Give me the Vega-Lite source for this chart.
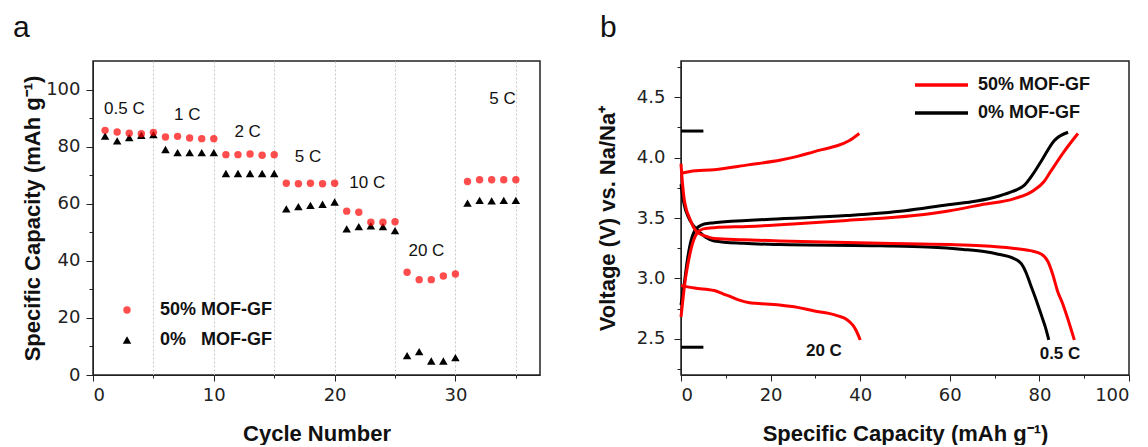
{
  "$schema": "https://vega.github.io/schema/vega-lite/v6.json",
  "padding": {"left": 12, "top": 12, "right": 5, "bottom": 0},
  "spacing": 54,
  "config": {
    "font": "Liberation Sans",
    "view": {"stroke": "#222", "strokeWidth": 1.5},
    "axis": {"domainColor": "#222", "tickColor": "#222", "labelFont": "DejaVu Sans", "labelFontSize": 18, "labelColor": "#222", "titleFont": "Liberation Sans", "titleFontSize": 22, "titleFontWeight": "bold", "titleColor": "#111", "grid": false, "labelOverlap": false, "tickCount": 30},
    "title": {"font": "Liberation Sans", "fontSize": 30, "fontWeight": "normal", "anchor": "start", "frame": "group", "color": "#111", "offset": 18}
  },
  "resolve": {
    "scale": {"x": "independent", "y": "independent", "color": "independent", "shape": "independent", "opacity": "independent", "size": "independent"},
    "legend": {"color": "independent", "shape": "independent", "opacity": "independent", "size": "independent"}
  },
  "hconcat": [
    {
      "width": 447,
      "height": 314,
      "title": {"text": "a", "dx": -80},
      "layer": [
        {
          "data": {"values": [
            {"cycle": 1, "cap": 83.7, "series": "0% MOF-GF"},
            {"cycle": 2, "cap": 82.0, "series": "0% MOF-GF"},
            {"cycle": 3, "cap": 83.2, "series": "0% MOF-GF"},
            {"cycle": 4, "cap": 84.0, "series": "0% MOF-GF"},
            {"cycle": 5, "cap": 84.2, "series": "0% MOF-GF"},
            {"cycle": 6, "cap": 79.0, "series": "0% MOF-GF"},
            {"cycle": 7, "cap": 77.9, "series": "0% MOF-GF"},
            {"cycle": 8, "cap": 77.9, "series": "0% MOF-GF"},
            {"cycle": 9, "cap": 77.9, "series": "0% MOF-GF"},
            {"cycle": 10, "cap": 77.9, "series": "0% MOF-GF"},
            {"cycle": 11, "cap": 70.6, "series": "0% MOF-GF"},
            {"cycle": 12, "cap": 70.6, "series": "0% MOF-GF"},
            {"cycle": 13, "cap": 70.6, "series": "0% MOF-GF"},
            {"cycle": 14, "cap": 70.6, "series": "0% MOF-GF"},
            {"cycle": 15, "cap": 70.6, "series": "0% MOF-GF"},
            {"cycle": 16, "cap": 58.2, "series": "0% MOF-GF"},
            {"cycle": 17, "cap": 59.0, "series": "0% MOF-GF"},
            {"cycle": 18, "cap": 59.4, "series": "0% MOF-GF"},
            {"cycle": 19, "cap": 59.8, "series": "0% MOF-GF"},
            {"cycle": 20, "cap": 60.6, "series": "0% MOF-GF"},
            {"cycle": 21, "cap": 51.2, "series": "0% MOF-GF"},
            {"cycle": 22, "cap": 52.0, "series": "0% MOF-GF"},
            {"cycle": 23, "cap": 52.3, "series": "0% MOF-GF"},
            {"cycle": 24, "cap": 52.0, "series": "0% MOF-GF"},
            {"cycle": 25, "cap": 50.6, "series": "0% MOF-GF"},
            {"cycle": 26, "cap": 6.8, "series": "0% MOF-GF"},
            {"cycle": 27, "cap": 8.2, "series": "0% MOF-GF"},
            {"cycle": 28, "cap": 4.9, "series": "0% MOF-GF"},
            {"cycle": 29, "cap": 4.9, "series": "0% MOF-GF"},
            {"cycle": 30, "cap": 6.1, "series": "0% MOF-GF"},
            {"cycle": 31, "cap": 60.2, "series": "0% MOF-GF"},
            {"cycle": 32, "cap": 61.2, "series": "0% MOF-GF"},
            {"cycle": 33, "cap": 61.0, "series": "0% MOF-GF"},
            {"cycle": 34, "cap": 61.2, "series": "0% MOF-GF"},
            {"cycle": 35, "cap": 61.2, "series": "0% MOF-GF"},
            {"cycle": 1, "cap": 85.7, "series": "50% MOF-GF"},
            {"cycle": 2, "cap": 85.1, "series": "50% MOF-GF"},
            {"cycle": 3, "cap": 84.7, "series": "50% MOF-GF"},
            {"cycle": 4, "cap": 84.5, "series": "50% MOF-GF"},
            {"cycle": 5, "cap": 85.0, "series": "50% MOF-GF"},
            {"cycle": 6, "cap": 83.4, "series": "50% MOF-GF"},
            {"cycle": 7, "cap": 83.6, "series": "50% MOF-GF"},
            {"cycle": 8, "cap": 83.0, "series": "50% MOF-GF"},
            {"cycle": 9, "cap": 82.8, "series": "50% MOF-GF"},
            {"cycle": 10, "cap": 82.8, "series": "50% MOF-GF"},
            {"cycle": 11, "cap": 77.2, "series": "50% MOF-GF"},
            {"cycle": 12, "cap": 77.2, "series": "50% MOF-GF"},
            {"cycle": 13, "cap": 77.4, "series": "50% MOF-GF"},
            {"cycle": 14, "cap": 77.0, "series": "50% MOF-GF"},
            {"cycle": 15, "cap": 77.2, "series": "50% MOF-GF"},
            {"cycle": 16, "cap": 67.2, "series": "50% MOF-GF"},
            {"cycle": 17, "cap": 67.0, "series": "50% MOF-GF"},
            {"cycle": 18, "cap": 67.2, "series": "50% MOF-GF"},
            {"cycle": 19, "cap": 67.0, "series": "50% MOF-GF"},
            {"cycle": 20, "cap": 67.2, "series": "50% MOF-GF"},
            {"cycle": 21, "cap": 57.4, "series": "50% MOF-GF"},
            {"cycle": 22, "cap": 57.0, "series": "50% MOF-GF"},
            {"cycle": 23, "cap": 53.5, "series": "50% MOF-GF"},
            {"cycle": 24, "cap": 53.5, "series": "50% MOF-GF"},
            {"cycle": 25, "cap": 53.7, "series": "50% MOF-GF"},
            {"cycle": 26, "cap": 36.0, "series": "50% MOF-GF"},
            {"cycle": 27, "cap": 33.4, "series": "50% MOF-GF"},
            {"cycle": 28, "cap": 33.4, "series": "50% MOF-GF"},
            {"cycle": 29, "cap": 34.7, "series": "50% MOF-GF"},
            {"cycle": 30, "cap": 35.4, "series": "50% MOF-GF"},
            {"cycle": 31, "cap": 67.8, "series": "50% MOF-GF"},
            {"cycle": 32, "cap": 68.4, "series": "50% MOF-GF"},
            {"cycle": 33, "cap": 68.4, "series": "50% MOF-GF"},
            {"cycle": 34, "cap": 68.4, "series": "50% MOF-GF"},
            {"cycle": 35, "cap": 68.4, "series": "50% MOF-GF"}
          ]},
          "mark": {"type": "point", "filled": true, "strokeWidth": 0},
          "encoding": {
            "x": {"field": "cycle", "type": "quantitative", "scale": {"domain": [0, 37], "nice": false},
              "axis": {"values": [0, 5, 10, 15, 20, 25, 30, 35], "labelExpr": "datum.value % 10 === 0 ? datum.label : ''",
                "labelFontSize": {"condition": {"test": "datum.value % 10 === 0", "value": 18}, "value": 0},
                "tickSize": {"condition": {"test": "datum.value % 10 === 0", "value": 6}, "value": 3},
                "grid": true, "gridDash": [2, 2], "gridColor": "#c8c8c8",
                "gridOpacity": {"condition": {"test": "datum.value === 0", "value": 0}, "value": 1},
                "title": "Cycle Number", "labelPadding": 5, "titlePadding": 19}},
            "y": {"field": "cap", "type": "quantitative", "scale": {"domain": [0, 110], "nice": false},
              "axis": {"values": [0, 10, 20, 30, 40, 50, 60, 70, 80, 90, 100], "labelExpr": "datum.value % 20 === 0 ? datum.label : ''",
                "labelFontSize": {"condition": {"test": "datum.value % 20 === 0", "value": 18}, "value": 0},
                "tickSize": {"condition": {"test": "datum.value % 20 === 0", "value": 7}, "value": 4},
                "title": "Specific Capacity (mAh g⁻¹)", "labelPadding": 6, "titlePadding": 1}},
            "color": {"field": "series", "type": "nominal", "scale": {"domain": ["50% MOF-GF", "0% MOF-GF"], "range": ["#ff0000", "#000000"]},
              "legend": {"orient": "none", "legendX": 25, "legendY": 240, "title": null, "padding": 0, "labelFont": "Liberation Sans", "labelFontSize": 18, "labelFontWeight": "bold", "labelColor": "#111", "rowPadding": 12, "labelOffset": 24,
                "labelExpr": "datum.label == '0% MOF-GF' ? '0%\u00a0\u00a0\u00a0MOF-GF' : datum.label"}},
            "shape": {"field": "series", "type": "nominal", "scale": {"domain": ["50% MOF-GF", "0% MOF-GF"], "range": ["circle", "triangle-up"]}},
            "size": {"field": "series", "type": "nominal", "scale": {"domain": ["50% MOF-GF", "0% MOF-GF"], "range": [55, 72]}},
            "opacity": {"field": "series", "type": "nominal", "scale": {"domain": ["50% MOF-GF", "0% MOF-GF"], "range": [0.7, 1]}}
          }
        },
        {
          "data": {"values": [
            {"label": "0.5 C", "cycle": 2.6, "cap": 93.3},
            {"label": "1 C", "cycle": 7.8, "cap": 91.0},
            {"label": "2 C", "cycle": 12.8, "cap": 85.0},
            {"label": "5 C", "cycle": 17.8, "cap": 76.5},
            {"label": "10 C", "cycle": 22.7, "cap": 67.4},
            {"label": "20 C", "cycle": 27.6, "cap": 43.3},
            {"label": "5 C", "cycle": 33.9, "cap": 96.8}
          ]},
          "mark": {"type": "text", "fontSize": 17, "color": "#111", "baseline": "middle"},
          "encoding": {
            "x": {"field": "cycle", "type": "quantitative"},
            "y": {"field": "cap", "type": "quantitative"},
            "text": {"field": "label"}
          }
        }
      ]
    },
    {
      "width": 448,
      "height": 314,
      "title": {"text": "b", "dx": -81},
      "layer": [
        {
          "data": {"values": [
            {"curve": "K05c", "series": "0% MOF-GF", "cap": 0, "v": 2.78},
            {"curve": "K05c", "series": "0% MOF-GF", "cap": 0.7, "v": 2.95},
            {"curve": "K05c", "series": "0% MOF-GF", "cap": 1.5, "v": 3.17},
            {"curve": "K05c", "series": "0% MOF-GF", "cap": 2.3, "v": 3.32},
            {"curve": "K05c", "series": "0% MOF-GF", "cap": 3.0, "v": 3.39},
            {"curve": "K05c", "series": "0% MOF-GF", "cap": 4.0, "v": 3.43},
            {"curve": "K05c", "series": "0% MOF-GF", "cap": 5.2, "v": 3.45},
            {"curve": "K05c", "series": "0% MOF-GF", "cap": 7.4, "v": 3.46},
            {"curve": "K05c", "series": "0% MOF-GF", "cap": 20, "v": 3.49},
            {"curve": "K05c", "series": "0% MOF-GF", "cap": 37, "v": 3.52},
            {"curve": "K05c", "series": "0% MOF-GF", "cap": 50, "v": 3.56},
            {"curve": "K05c", "series": "0% MOF-GF", "cap": 59.6, "v": 3.61},
            {"curve": "K05c", "series": "0% MOF-GF", "cap": 66, "v": 3.64},
            {"curve": "K05c", "series": "0% MOF-GF", "cap": 70.8, "v": 3.68},
            {"curve": "K05c", "series": "0% MOF-GF", "cap": 74, "v": 3.72},
            {"curve": "K05c", "series": "0% MOF-GF", "cap": 76.6, "v": 3.77},
            {"curve": "K05c", "series": "0% MOF-GF", "cap": 78.5, "v": 3.86},
            {"curve": "K05c", "series": "0% MOF-GF", "cap": 80.4, "v": 3.97},
            {"curve": "K05c", "series": "0% MOF-GF", "cap": 83.3, "v": 4.14},
            {"curve": "K05c", "series": "0% MOF-GF", "cap": 86.4, "v": 4.21},
            {"curve": "K05d", "series": "0% MOF-GF", "cap": 0, "v": 3.78},
            {"curve": "K05d", "series": "0% MOF-GF", "cap": 0.5, "v": 3.65},
            {"curve": "K05d", "series": "0% MOF-GF", "cap": 1.0, "v": 3.57},
            {"curve": "K05d", "series": "0% MOF-GF", "cap": 1.5, "v": 3.52},
            {"curve": "K05d", "series": "0% MOF-GF", "cap": 2.5, "v": 3.45},
            {"curve": "K05d", "series": "0% MOF-GF", "cap": 3.7, "v": 3.40},
            {"curve": "K05d", "series": "0% MOF-GF", "cap": 5.5, "v": 3.34},
            {"curve": "K05d", "series": "0% MOF-GF", "cap": 7.4, "v": 3.31},
            {"curve": "K05d", "series": "0% MOF-GF", "cap": 14, "v": 3.29},
            {"curve": "K05d", "series": "0% MOF-GF", "cap": 22, "v": 3.28},
            {"curve": "K05d", "series": "0% MOF-GF", "cap": 44.6, "v": 3.27},
            {"curve": "K05d", "series": "0% MOF-GF", "cap": 55, "v": 3.26},
            {"curve": "K05d", "series": "0% MOF-GF", "cap": 63, "v": 3.24},
            {"curve": "K05d", "series": "0% MOF-GF", "cap": 68, "v": 3.22},
            {"curve": "K05d", "series": "0% MOF-GF", "cap": 70.8, "v": 3.20},
            {"curve": "K05d", "series": "0% MOF-GF", "cap": 74, "v": 3.17},
            {"curve": "K05d", "series": "0% MOF-GF", "cap": 76, "v": 3.12},
            {"curve": "K05d", "series": "0% MOF-GF", "cap": 77, "v": 3.05},
            {"curve": "K05d", "series": "0% MOF-GF", "cap": 78, "v": 2.95},
            {"curve": "K05d", "series": "0% MOF-GF", "cap": 79.2, "v": 2.83},
            {"curve": "K05d", "series": "0% MOF-GF", "cap": 80.4, "v": 2.70},
            {"curve": "K05d", "series": "0% MOF-GF", "cap": 81.3, "v": 2.60},
            {"curve": "K05d", "series": "0% MOF-GF", "cap": 82.1, "v": 2.49},
            {"curve": "R05c", "series": "50% MOF-GF", "cap": 0, "v": 2.68},
            {"curve": "R05c", "series": "50% MOF-GF", "cap": 0.5, "v": 2.85},
            {"curve": "R05c", "series": "50% MOF-GF", "cap": 1.0, "v": 3.0},
            {"curve": "R05c", "series": "50% MOF-GF", "cap": 1.5, "v": 3.11},
            {"curve": "R05c", "series": "50% MOF-GF", "cap": 2.5, "v": 3.28},
            {"curve": "R05c", "series": "50% MOF-GF", "cap": 3.7, "v": 3.38},
            {"curve": "R05c", "series": "50% MOF-GF", "cap": 5, "v": 3.41},
            {"curve": "R05c", "series": "50% MOF-GF", "cap": 7.4, "v": 3.42},
            {"curve": "R05c", "series": "50% MOF-GF", "cap": 15, "v": 3.43},
            {"curve": "R05c", "series": "50% MOF-GF", "cap": 25, "v": 3.45},
            {"curve": "R05c", "series": "50% MOF-GF", "cap": 37, "v": 3.48},
            {"curve": "R05c", "series": "50% MOF-GF", "cap": 52, "v": 3.52},
            {"curve": "R05c", "series": "50% MOF-GF", "cap": 60, "v": 3.56},
            {"curve": "R05c", "series": "50% MOF-GF", "cap": 67, "v": 3.61},
            {"curve": "R05c", "series": "50% MOF-GF", "cap": 74.4, "v": 3.66},
            {"curve": "R05c", "series": "50% MOF-GF", "cap": 78.8, "v": 3.73},
            {"curve": "R05c", "series": "50% MOF-GF", "cap": 81, "v": 3.80},
            {"curve": "R05c", "series": "50% MOF-GF", "cap": 82.6, "v": 3.89},
            {"curve": "R05c", "series": "50% MOF-GF", "cap": 85.5, "v": 4.05},
            {"curve": "R05c", "series": "50% MOF-GF", "cap": 88.6, "v": 4.20},
            {"curve": "R05d", "series": "50% MOF-GF", "cap": 0, "v": 3.95},
            {"curve": "R05d", "series": "50% MOF-GF", "cap": 0.3, "v": 3.80},
            {"curve": "R05d", "series": "50% MOF-GF", "cap": 0.7, "v": 3.66},
            {"curve": "R05d", "series": "50% MOF-GF", "cap": 1.2, "v": 3.57},
            {"curve": "R05d", "series": "50% MOF-GF", "cap": 1.9, "v": 3.50},
            {"curve": "R05d", "series": "50% MOF-GF", "cap": 2.7, "v": 3.43},
            {"curve": "R05d", "series": "50% MOF-GF", "cap": 3.7, "v": 3.38},
            {"curve": "R05d", "series": "50% MOF-GF", "cap": 5.5, "v": 3.35},
            {"curve": "R05d", "series": "50% MOF-GF", "cap": 7.4, "v": 3.33},
            {"curve": "R05d", "series": "50% MOF-GF", "cap": 14, "v": 3.32},
            {"curve": "R05d", "series": "50% MOF-GF", "cap": 22, "v": 3.31},
            {"curve": "R05d", "series": "50% MOF-GF", "cap": 44.6, "v": 3.29},
            {"curve": "R05d", "series": "50% MOF-GF", "cap": 60, "v": 3.28},
            {"curve": "R05d", "series": "50% MOF-GF", "cap": 67, "v": 3.27},
            {"curve": "R05d", "series": "50% MOF-GF", "cap": 74, "v": 3.25},
            {"curve": "R05d", "series": "50% MOF-GF", "cap": 78, "v": 3.23},
            {"curve": "R05d", "series": "50% MOF-GF", "cap": 80.5, "v": 3.20},
            {"curve": "R05d", "series": "50% MOF-GF", "cap": 81.9, "v": 3.14},
            {"curve": "R05d", "series": "50% MOF-GF", "cap": 83, "v": 3.03},
            {"curve": "R05d", "series": "50% MOF-GF", "cap": 84, "v": 2.90},
            {"curve": "R05d", "series": "50% MOF-GF", "cap": 85.3, "v": 2.78},
            {"curve": "R05d", "series": "50% MOF-GF", "cap": 86.3, "v": 2.67},
            {"curve": "R05d", "series": "50% MOF-GF", "cap": 87.8, "v": 2.49},
            {"curve": "R20c", "series": "50% MOF-GF", "cap": 0, "v": 3.87},
            {"curve": "R20c", "series": "50% MOF-GF", "cap": 2, "v": 3.885},
            {"curve": "R20c", "series": "50% MOF-GF", "cap": 7.4, "v": 3.90},
            {"curve": "R20c", "series": "50% MOF-GF", "cap": 15, "v": 3.94},
            {"curve": "R20c", "series": "50% MOF-GF", "cap": 22.3, "v": 3.98},
            {"curve": "R20c", "series": "50% MOF-GF", "cap": 26, "v": 4.01},
            {"curve": "R20c", "series": "50% MOF-GF", "cap": 29.8, "v": 4.05},
            {"curve": "R20c", "series": "50% MOF-GF", "cap": 33, "v": 4.08},
            {"curve": "R20c", "series": "50% MOF-GF", "cap": 35, "v": 4.10},
            {"curve": "R20c", "series": "50% MOF-GF", "cap": 37.5, "v": 4.14},
            {"curve": "R20c", "series": "50% MOF-GF", "cap": 39.8, "v": 4.20},
            {"curve": "R20d", "series": "50% MOF-GF", "cap": 0, "v": 2.94},
            {"curve": "R20d", "series": "50% MOF-GF", "cap": 3, "v": 2.92},
            {"curve": "R20d", "series": "50% MOF-GF", "cap": 7.4, "v": 2.90},
            {"curve": "R20d", "series": "50% MOF-GF", "cap": 9.5, "v": 2.87},
            {"curve": "R20d", "series": "50% MOF-GF", "cap": 11, "v": 2.85},
            {"curve": "R20d", "series": "50% MOF-GF", "cap": 13, "v": 2.82},
            {"curve": "R20d", "series": "50% MOF-GF", "cap": 15, "v": 2.80},
            {"curve": "R20d", "series": "50% MOF-GF", "cap": 22, "v": 2.78},
            {"curve": "R20d", "series": "50% MOF-GF", "cap": 26, "v": 2.76},
            {"curve": "R20d", "series": "50% MOF-GF", "cap": 29.8, "v": 2.73},
            {"curve": "R20d", "series": "50% MOF-GF", "cap": 33, "v": 2.71},
            {"curve": "R20d", "series": "50% MOF-GF", "cap": 35, "v": 2.69},
            {"curve": "R20d", "series": "50% MOF-GF", "cap": 37, "v": 2.66},
            {"curve": "R20d", "series": "50% MOF-GF", "cap": 38.4, "v": 2.61},
            {"curve": "R20d", "series": "50% MOF-GF", "cap": 39.2, "v": 2.56},
            {"curve": "R20d", "series": "50% MOF-GF", "cap": 40, "v": 2.49}
          ]},
          "mark": {"type": "line", "strokeWidth": 3, "interpolate": "monotone"},
          "encoding": {
            "x": {"field": "cap", "type": "quantitative", "scale": {"domain": [0, 100], "nice": false},
              "axis": {"values": [0, 10, 20, 30, 40, 50, 60, 70, 80, 90, 100], "labelExpr": "datum.value % 20 === 0 ? datum.label : ''",
                "labelFontSize": {"condition": {"test": "datum.value % 20 === 0", "value": 18}, "value": 0},
                "tickSize": {"condition": {"test": "datum.value % 20 === 0", "value": 6}, "value": 3},
                "title": "Specific Capacity (mAh g⁻¹)", "labelPadding": 5, "titlePadding": 19}},
            "y": {"field": "v", "type": "quantitative", "scale": {"domain": [2.2, 4.8], "nice": false, "zero": false},
              "axis": {"values": [2.25, 2.5, 2.75, 3.0, 3.25, 3.5, 3.75, 4.0, 4.25, 4.5, 4.75], "format": ".1f",
                "labelExpr": "datum.value * 4 % 2 === 0 ? datum.label : ''",
                "labelFontSize": {"condition": {"test": "datum.value * 4 % 2 === 0", "value": 18}, "value": 0},
                "tickSize": {"condition": {"test": "datum.value * 4 % 2 === 0", "value": 7}, "value": 4},
                "title": "Voltage (V) vs. Na/Na⁺", "labelPadding": 9, "titlePadding": 17}},
            "color": {"field": "series", "type": "nominal", "scale": {"domain": ["50% MOF-GF", "0% MOF-GF"], "range": ["#ff0000", "#000000"]},
              "legend": {"orient": "none", "legendX": 232, "legendY": 14, "title": null, "padding": 0, "symbolType": "stroke", "symbolSize": 2809, "symbolStrokeWidth": 3.5, "clipHeight": 20, "labelFont": "Liberation Sans", "labelFontSize": 18, "labelFontWeight": "bold", "labelColor": "#111", "rowPadding": 8, "labelOffset": 8}},
            "detail": {"field": "curve"}
          }
        },
        {
          "data": {"values": [
            {"cap": 0, "cap2": 5, "v": 4.22},
            {"cap": 0, "cap2": 5, "v": 2.43}
          ]},
          "mark": {"type": "rule", "strokeWidth": 3, "color": "#000"},
          "encoding": {
            "x": {"field": "cap", "type": "quantitative"},
            "x2": {"field": "cap2"},
            "y": {"field": "v", "type": "quantitative"}
          }
        },
        {
          "data": {"values": [
            {"label": "20 C", "cap": 31.9, "v": 2.40},
            {"label": "0.5 C", "cap": 84.6, "v": 2.37}
          ]},
          "mark": {"type": "text", "fontSize": 17, "fontWeight": "bold", "color": "#111", "baseline": "middle"},
          "encoding": {
            "x": {"field": "cap", "type": "quantitative"},
            "y": {"field": "v", "type": "quantitative"},
            "text": {"field": "label"}
          }
        }
      ]
    }
  ]
}
